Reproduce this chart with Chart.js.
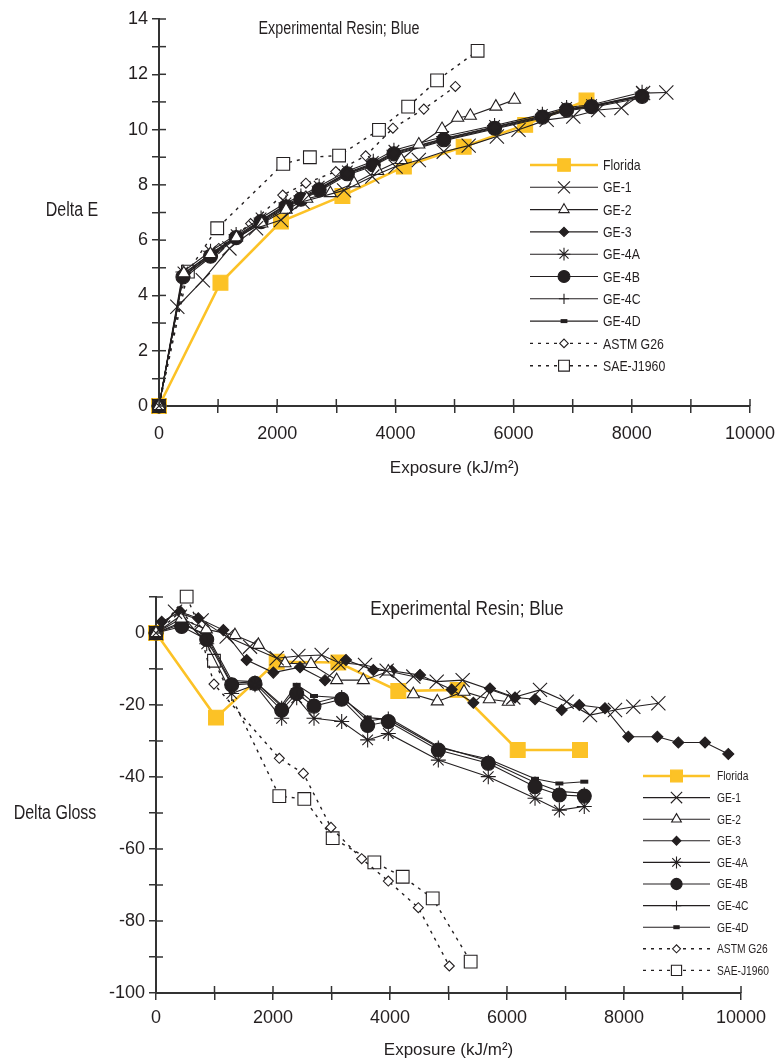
<!DOCTYPE html>
<html><head><meta charset="utf-8">
<script src="https://cdn.jsdelivr.net/npm/chart.js@4.4.1/dist/chart.umd.min.js"></script>
<style>
body{margin:0;background:#fff;width:777px;height:1061px;overflow:hidden;position:relative}
#c1{position:absolute;left:0;top:0}
#c2{position:absolute;left:0;top:560px}
</style></head>
<body>
<canvas id="c1" width="777" height="480"></canvas>
<canvas id="c2" width="777" height="501"></canvas>
<script>
// ---------- DATA ----------
const seriesNames = ['Florida','GE-1','GE-2','GE-3','GE-4A','GE-4B','GE-4C','GE-4D','ASTM G26','SAE-J1960'];
const chartTitle = 'Experimental Resin; Blue';
const xAxisTitle = 'Exposure (kJ/m\u00B2)';
const topYTitle = 'Delta E';
const botYTitle = 'Delta Gloss';

// Top chart: Delta E
const topFloridaX = [0,1040,2064,3103,4143,5155,6196,7234];
const topFloridaY = [0,4.46,6.67,7.6,8.66,9.38,10.17,11.05];
const topGE1X = [0,310,742,1192,1642,2064,2428,3131,3609,4003,4396,4818,5240,5717,6083,6560,7010,7432,7825,8191,8584];
const topGE1Y = [0,3.59,4.55,5.70,6.43,6.73,7.39,7.8,8.3,8.66,8.9,9.2,9.42,9.75,9.99,10.35,10.47,10.71,10.78,11.32,11.34];
const topGE2X = [0,420,870,1310,1740,2150,2500,2900,3300,3700,4100,4396,4789,5054,5268,5700,6015];
const topGE2Y = [0,4.8,5.5,6.1,6.6,7.1,7.5,7.7,8.06,8.5,8.9,9.46,10.02,10.43,10.5,10.83,11.08];
const topGE4X = [0,405,872,1305,1727,2148,2401,2710,3187,3626,3975,4818,5678,6487,6897,7319,8174];
const topGE3Y = [0,4.7,5.45,6.1,6.7,7.25,7.5,7.85,8.42,8.75,9.15,9.66,10.08,10.48,10.72,10.85,11.22];
const topGE4AY = [0,4.85,5.6,6.2,6.8,7.35,7.6,7.95,8.5,8.85,9.25,9.75,10.15,10.55,10.8,10.9,11.35];
const topGE4BY = [0,4.67,5.42,6.09,6.67,7.21,7.48,7.82,8.40,8.72,9.12,9.63,10.05,10.45,10.71,10.83,11.20];
const topGE4CY = [0,4.75,5.5,6.15,6.72,7.28,7.55,7.88,8.45,8.78,9.18,9.68,10.1,10.5,10.75,10.86,11.25];
const topGE4DY = [0,4.6,5.38,6.05,6.62,7.17,7.45,7.78,8.36,8.68,9.08,9.6,10.02,10.42,10.68,10.8,11.15];
const topASTMX = [0,450,1012,1550,2093,2486,2991,3497,3958,4481,5015];
const topASTMY = [0,4.8,5.7,6.6,7.63,8.06,8.48,9.05,10.05,10.74,11.56];
const topSAEX = [0,489,985,2103,2553,3047,3722,4216,4705,5391];
const topSAEY = [0,4.86,6.43,8.76,9.0,9.06,9.99,10.83,11.78,12.85];

// Bottom chart: Delta Gloss
const botFloridaX = [0,1026,2063,3117,4142,5157,6183,7248];
const botFloridaY = [0,-23.5,-8.0,-8.2,-16.1,-15.8,-32.5,-32.5];
const botGE1X = [0,325,780,1208,1607,2063,2433,2832,3117,3573,3943,4399,4798,5242,6108,6564,7020,7419,7846,8159,8587];
const botGE1Y = [0,5.9,3.5,-1.0,-3.8,-7.0,-6.4,-6.1,-8.2,-8.9,-10.5,-12.1,-13.5,-13.1,-17.9,-15.8,-19.1,-22.8,-21.4,-20.5,-19.5];
const botGE2X = [0,430,860,1350,1749,2205,2650,3089,3544,3971,4399,4809,5265,5698,6023];
const botGE2Y = [0,4.0,1.0,-0.6,-3.3,-8.4,-8.6,-13.1,-13.1,-10.7,-17.0,-19.0,-16.3,-18.4,-19.1];
const botGE3X = [0,97,410,723,1151,1550,2006,2462,2889,3248,3715,4029,4513,5054,5425,5709,6137,6479,6935,7236,7675,8074,8570,8929,9385,9783];
const botGE3Y = [0,3.1,5.9,4.1,0.8,-7.5,-11.0,-9.5,-13.1,-7.5,-10.3,-10.5,-11.7,-15.7,-19.4,-15.4,-17.9,-18.4,-21.4,-20.0,-20.9,-28.8,-28.8,-30.4,-30.4,-33.6];
const botGE4X = [0,439,867,1294,1692,2148,2405,2701,3174,3618,3971,4826,5680,6479,6895,7321];
const botGE4AY = [0,5.0,-3.0,-16.8,-14.4,-23.7,-18.0,-23.7,-24.6,-29.7,-27.9,-35.3,-39.9,-45.9,-49.2,-48.2];
const botGE4BY = [0,1.8,-1.8,-14.4,-14.0,-21.4,-16.8,-20.3,-18.4,-25.7,-24.6,-32.5,-36.2,-42.7,-45.0,-45.3];
const botGE4CY = [0,3.0,-1.0,-14.0,-13.5,-20.5,-15.5,-19.5,-17.5,-24.5,-23.5,-31.5,-35.5,-41.5,-44.0,-44.5];
const botGE4DY = [0,2.5,-0.5,-13.2,-13.5,-20.0,-14.4,-17.5,-18.0,-23.5,-24.0,-31.8,-35.0,-40.5,-41.8,-41.3];
const botASTMX = [0,420,741,991,2108,2519,2991,3516,3971,4484,5014];
const botASTMY = [0,6.0,0.8,-14.2,-34.8,-39.0,-54.0,-62.7,-68.9,-76.3,-92.5];
const botSAEX = [0,524,991,2108,2535,3020,3732,4217,4730,5379];
const botSAEY = [0,10.1,-7.7,-45.3,-46.1,-57.0,-63.7,-67.7,-73.7,-91.3];

// ---------- STYLES ----------
const YEL = '#fcc226', INK = '#231f20';
const FONT = "'Liberation Sans',Arial,sans-serif";
const CONDENSE = 0.82;
function pts(xs, ys){ return xs.map((x,i)=>({x:x, y:ys[i]})); }
function styleFor(name){
  const base = {label:name, borderColor:INK, borderWidth:1.1, pointBorderColor:INK, pointBackgroundColor:INK,
    pointBorderWidth:1.1, fill:false, tension:0, clip:false, order:1};
  switch(name){
    case 'Florida': return Object.assign(base,{borderColor:YEL,borderWidth:2.6,pointBorderColor:YEL,pointBackgroundColor:YEL,pointStyle:'rect',pointRadius:10.5,order:10});
    case 'GE-1': return Object.assign(base,{pointStyle:'crossRot',pointRadius:10});
    case 'GE-2': return Object.assign(base,{pointStyle:'triangle',pointRadius:7,pointBackgroundColor:'#fff'});
    case 'GE-3': return Object.assign(base,{pointStyle:'rectRot',pointRadius:5.5});
    case 'GE-4A': return Object.assign(base,{pointStyle:'star',pointRadius:7.5});
    case 'GE-4B': return Object.assign(base,{pointStyle:'circle',pointRadius:7});
    case 'GE-4C': return Object.assign(base,{pointStyle:'cross',pointRadius:6});
    case 'GE-4D': return Object.assign(base,{pointStyle:'line',pointRadius:4,pointBorderWidth:4});
    case 'ASTM G26': return Object.assign(base,{borderDash:[3,5],borderWidth:1.4,pointStyle:'rectRot',pointRadius:5,pointBackgroundColor:'#fff',order:5});
    case 'SAE-J1960': return Object.assign(base,{borderDash:[3,5],borderWidth:1.4,pointStyle:'rect',pointRadius:9,pointBackgroundColor:'#fff',order:5});
  }
}

function condensedText(ctx, text, x, y, size, align){
  ctx.save();
  ctx.translate(x, y); ctx.scale(CONDENSE, 1);
  ctx.font = size + 'px ' + FONT; ctx.textAlign = align; ctx.textBaseline = 'middle'; ctx.fillStyle = INK;
  ctx.fillText(text, 0, 0);
  ctx.restore();
}

// ---------- PLUGINS ----------
const innerTicks = {
  id:'innerTicks',
  afterDraw(chart){
    const {ctx, chartArea:a, scales:{x,y}} = chart;
    ctx.save(); ctx.strokeStyle = '#333'; ctx.lineWidth = 1.5;
    x.ticks.forEach(t=>{const p=x.getPixelForValue(t.value); ctx.beginPath(); ctx.moveTo(p,a.bottom); ctx.lineTo(p,a.bottom-7); ctx.stroke();});
    y.ticks.forEach(t=>{const p=y.getPixelForValue(t.value); ctx.beginPath(); ctx.moveTo(a.left,p); ctx.lineTo(a.left+7,p); ctx.stroke();});
    ctx.restore();
  }
};
const texts = {
  id:'texts',
  afterDraw(chart, args, o){
    condensedText(chart.ctx, o.title, o.titleX, o.titleY, o.titleSize, 'center');
    condensedText(chart.ctx, o.yTitle, o.yX, o.yY, o.ySize, 'center');
  }
};
const lineLegend = {
  id:'lineLegend',
  afterDraw(chart, args, o){
    const ctx = chart.ctx;
    chart.data.datasets.forEach((ds, i)=>{
      const yy = o.y0 + i*o.dy;
      ctx.save();
      ctx.strokeStyle = ds.borderColor; ctx.lineWidth = ds.borderWidth;
      ctx.setLineDash(ds.borderDash || []);
      ctx.beginPath(); ctx.moveTo(o.x1, yy); ctx.lineTo(o.x2, yy); ctx.stroke();
      ctx.setLineDash([]);
      ctx.fillStyle = ds.pointBackgroundColor; ctx.strokeStyle = ds.pointBorderColor; ctx.lineWidth = ds.pointBorderWidth;
      Chart.helpers.drawPoint(ctx, {pointStyle: ds.pointStyle, radius: ds.pointRadius*o.ms, borderWidth: ds.pointBorderWidth, rotation:0}, (o.x1+o.x2)/2, yy);
      ctx.restore();
      condensedText(ctx, ds.label, o.tx, yy+1, o.size, 'left');
    });
  }
};

function axisOpts(cfg){
  return {
    x:{type:'linear', min:0, max:10000,
      ticks:{stepSize:1000, autoSkip:false, maxRotation:0, color:INK, font:{family:FONT,size:18}, padding:cfg.xPad,
        callback:v=> v%2000===0 ? String(v) : ''},
      grid:{drawOnChartArea:false, tickLength:7, color:'#333', lineWidth:1.5},
      border:{color:'#333', width:2},
      title:{display:true, text:xAxisTitle, color:INK, font:{family:FONT,size:17}, padding:{top:0,bottom:cfg.xTitlePad}},
      afterFit:s=>{s.height = cfg.xH; s.paddingLeft = 0; s.paddingRight = 0;}
    },
    y:{type:'linear', min:cfg.yMin, max:cfg.yMax,
      ticks:{stepSize:cfg.yStep, autoSkip:false, color:INK, font:{family:FONT,size:18}, padding:4,
        callback:v=> (Math.round(v) % cfg.yLab === 0) ? String(v) : ''},
      grid:{drawOnChartArea:false, tickLength:7, color:'#333', lineWidth:1.5},
      border:{color:'#333', width:2},
      afterFit:s=>{s.width = cfg.yW; s.paddingTop = 0; s.paddingBottom = 0;}
    }
  };
}

Chart.defaults.animation = false;

const topSets = [
  [topFloridaX, topFloridaY],[topGE1X, topGE1Y],[topGE2X, topGE2Y],[topGE4X, topGE3Y],[topGE4X, topGE4AY],
  [topGE4X, topGE4BY],[topGE4X, topGE4CY],[topGE4X, topGE4DY],[topASTMX, topASTMY],[topSAEX, topSAEY]
];
new Chart(document.getElementById('c1'), {
  type:'line',
  data:{datasets: topSets.map((p,i)=>Object.assign(styleFor(seriesNames[i]),{data:pts(p[0],p[1])}))},
  options:{responsive:false, animation:false, layout:{padding:{top:19,right:27,left:0,bottom:0}},
    scales: axisOpts({xPad:10, xTitlePad:1, xH:74, yMin:0, yMax:14, yStep:1, yLab:2, yW:159}),
    plugins:{legend:{display:false}, tooltip:{enabled:false},
      texts:{title:chartTitle, titleSize:17.5, titleX:339, titleY:29, yTitle:topYTitle, ySize:19.5, yX:72, yY:211},
      lineLegend:{x1:530, x2:598, tx:603, y0:165, dy:22.3, size:15, ms:0.85}}
  },
  plugins:[innerTicks, texts, lineLegend]
});

const botSets = [
  [botFloridaX, botFloridaY],[botGE1X, botGE1Y],[botGE2X, botGE2Y],[botGE3X, botGE3Y],[botGE4X, botGE4AY],
  [botGE4X, botGE4BY],[botGE4X, botGE4CY],[botGE4X, botGE4DY],[botASTMX, botASTMY],[botSAEX, botSAEY]
];
new Chart(document.getElementById('c2'), {
  type:'line',
  data:{datasets: botSets.map((p,i)=>Object.assign(styleFor(seriesNames[i]),{data:pts(p[0],p[1])}))},
  options:{responsive:false, animation:false, layout:{padding:{top:37,right:36,left:0,bottom:0}},
    scales: axisOpts({xPad:7, xTitlePad:0, xH:68, yMin:-100, yMax:10, yStep:10, yLab:20, yW:156}),
    plugins:{legend:{display:false}, tooltip:{enabled:false},
      texts:{title:chartTitle, titleSize:21, titleX:467, titleY:49, yTitle:botYTitle, ySize:19.5, yX:55, yY:254},
      lineLegend:{x1:643, x2:710, tx:717, y0:216, dy:21.6, size:12.5, ms:0.8}}
  },
  plugins:[innerTicks, texts, lineLegend]
});
</script>
</body></html>
